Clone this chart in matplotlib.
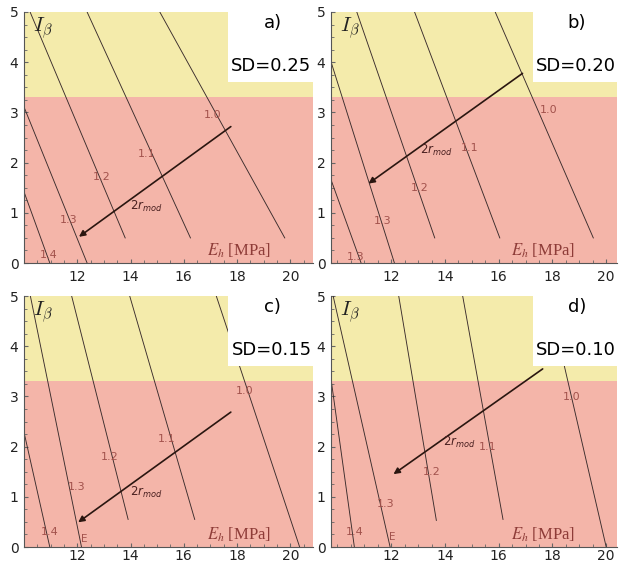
import matplotlib.pyplot as plt
from matplotlib.patches import Rectangle
from matplotlib.ticker import MultipleLocator

# panel texts
panel_tags = ['a)', 'b)', 'c)', 'd)']
sd_texts = ['SD=0.25', 'SD=0.20', 'SD=0.15', 'SD=0.10']
xlims = [(10.0, 20.85), (9.76, 20.4), (10.0, 20.85), (9.76, 20.4)]
x_ticks = [12, 14, 16, 18, 20]
y_ticks = [0, 1, 2, 3, 4, 5]
zone_limit = 3.3

# iso-lines (1.0 ... 1.4), one row per panel
level_text = [['1.0', '1.1', '1.2', '1.3', '1.4'],
              ['1.0', '1.1', '1.2', '1.3', '1.3'],
              ['1.0', '1.1', '1.2', '1.3', '1.4'],
              ['1.0', '1.1', '1.2', '1.3', '1.4']]
line_x_top = [[15.10, 12.37, 10.23, 10.0, 10.0],
              [15.87, 12.87, 10.72, 9.76, 9.76],
              [17.22, 13.97, 11.79, 10.24, 10.0],
              [17.84, 14.66, 12.28, 9.84, 9.76]]
line_y_top = [[5, 5, 5, 3.11, 1.42],
              [5, 5, 5, 4.01, 1.66],
              [5, 5, 5, 5, 2.29],
              [5, 5, 5, 5, 3.35]]
line_x_bot = [[19.79, 16.25, 13.80, 12.37, 10.97],
              [19.52, 16.04, 13.62, 12.12, 10.88],
              [20.35, 16.41, 13.91, 12.16, 10.97],
              [20.00, 16.16, 13.68, 11.96, 10.63]]
line_y_bot = [[0.5, 0.5, 0.5, 0, 0],
              [0.5, 0.5, 0.5, 0, 0],
              [0, 0.55, 0.55, 0, 0],
              [0, 0.55, 0.53, 0, 0]]
label_x = [[17.1, 14.6, 12.91, 11.66, 10.91],
           [17.84, 14.92, 13.06, 11.69, 10.69],
           [18.29, 15.35, 13.22, 11.98, 10.97],
           [18.72, 15.6, 13.49, 11.81, 10.63]]
label_y = [[2.95, 2.18, 1.72, 0.86, 0.16],
           [3.05, 2.29, 1.49, 0.83, 0.12],
           [3.11, 2.15, 1.79, 1.19, 0.3],
           [2.98, 1.99, 1.49, 0.86, 0.3]]

# 2r_mod arrows
arrow_x0 = [17.85, 16.97, 17.85, 17.72]
arrow_y0 = [2.75, 3.81, 2.72, 3.58]
arrow_x1 = [11.98, 11.07, 11.95, 12.0]
arrow_y1 = [0.49, 1.55, 0.46, 1.42]
r_x = [14.6, 13.68, 14.6, 14.55]
r_y = [1.12, 2.25, 1.09, 2.09]

# small "E" marks (panels c and d)
e_x = [None, None, 12.28, 12.04]
e_y = [None, None, 0.17, 0.2]

yellow = '#f4ebab'
pink = '#f4b5a9'
label_col = '#a2524c'

positions = [[0.0386, 0.5353, 0.4654, 0.4435],
             [0.533, 0.5353, 0.4605, 0.4435],
             [0.0386, 0.0335, 0.4654, 0.4435],
             [0.533, 0.0335, 0.4605, 0.4435]]
x_pads = [5, 5, 1.5, 1.5]

fig = plt.figure(figsize=(6.21, 5.66), dpi=100)

for i in range(4):
    ax = fig.add_axes(positions[i])
    ax.set_xlim(*xlims[i])
    ax.set_ylim(0, 5)
    ax.axhspan(zone_limit, 5, color=yellow, lw=0, zorder=0)
    ax.axhspan(0, zone_limit, color=pink, lw=0, zorder=0)
    ax.add_patch(Rectangle((0.705, 0.72), 0.3, 0.29, transform=ax.transAxes,
                           facecolor='white', edgecolor='none', zorder=3, clip_on=False))

    for j in range(5):
        ax.plot([line_x_top[i][j], line_x_bot[i][j]], [line_y_top[i][j], line_y_bot[i][j]],
                color='#3a2c2c', lw=0.65, zorder=2)
        ax.text(label_x[i][j], label_y[i][j], level_text[i][j], color=label_col,
                fontsize=8, ha='center', va='center', zorder=2)

    ax.annotate('', xy=(arrow_x1[i], arrow_y1[i]), xytext=(arrow_x0[i], arrow_y0[i]),
                arrowprops=dict(arrowstyle='-|>', color='#2a1610', lw=1.2, mutation_scale=9),
                zorder=4)
    ax.text(r_x[i], r_y[i], r'$2r_{mod}$', color='#4a2020', fontsize=8.5,
            ha='center', va='center', zorder=4)
    if e_x[i] is not None:
        ax.text(e_x[i], e_y[i], 'E', color=label_col, fontsize=7.5, ha='center', va='center')

    ax.text(0.03, 0.985, r'$I_\beta$', transform=ax.transAxes, fontsize=15,
            math_fontfamily='cm', ha='left', va='top', color='#222222', zorder=5)
    ax.text(0.855, 0.05, r'$E_h$ [MPa]', transform=ax.transAxes, fontsize=12,
            family='Liberation Serif', math_fontfamily='stix', color='#8e3c38',
            ha='right', va='center', zorder=5)
    ax.text(0.86, 0.955, panel_tags[i], transform=ax.transAxes, fontsize=13,
            ha='center', va='center', zorder=5)
    ax.text(0.995, 0.785, sd_texts[i], transform=ax.transAxes, fontsize=13,
            ha='right', va='center', zorder=5)

    ax.set_xticks(x_ticks)
    ax.set_yticks(y_ticks)
    ax.xaxis.set_minor_locator(MultipleLocator(0.5))
    ax.yaxis.set_minor_locator(MultipleLocator(0.25))
    ax.tick_params(which='both', direction='in', colors='#666666', labelcolor='#222222',
                   labelsize=10)
    ax.tick_params(axis='x', which='major', length=3, pad=x_pads[i])
    ax.tick_params(axis='y', which='major', length=3, pad=4)
    ax.tick_params(which='minor', length=2)
    for s in ['top', 'right']:
        ax.spines[s].set_visible(False)
    for s in ['left', 'bottom']:
        ax.spines[s].set_color('#555555')
        ax.spines[s].set_linewidth(0.8)

fig.savefig('out.png', dpi=100)
